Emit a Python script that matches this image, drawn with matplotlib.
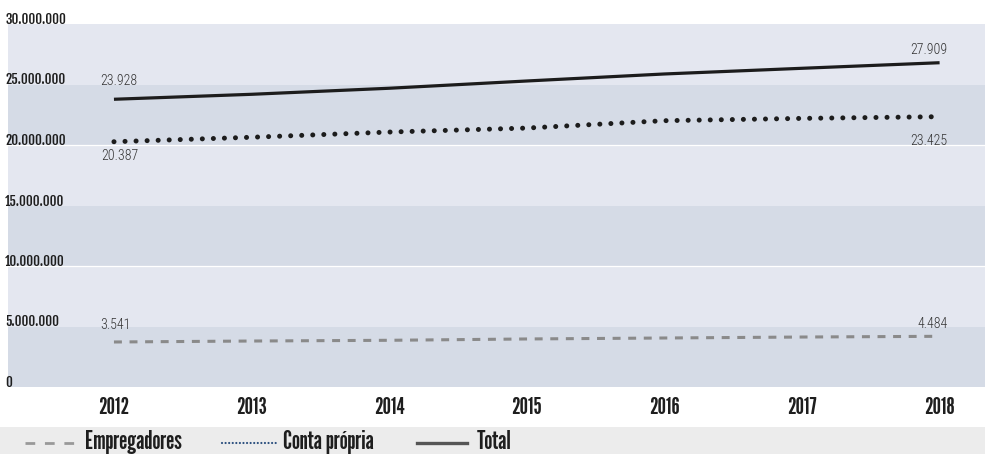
import matplotlib
matplotlib.use("Agg")
import matplotlib.pyplot as plt
from matplotlib.transforms import blended_transform_factory
from matplotlib.lines import Line2D
from matplotlib.patches import Rectangle

# ---- data (millions) ----
years = [2012, 2013, 2014, 2015, 2016, 2017, 2018]
total = [23.78, 24.19, 24.69, 25.29, 25.87, 26.34, 26.80]
conta_propria = [20.27, 20.64, 21.07, 21.40, 22.01, 22.20, 22.34]
empregadores = [3.72, 3.80, 3.86, 3.97, 4.05, 4.13, 4.19]

total_labels = ["23.928", "27.909"]
conta_labels = ["20.387", "23.425"]
empreg_labels = ["3.541", "4.484"]

y_ticks = [0, 5, 10, 15, 20, 25, 30]
y_tick_labels = ["0", "5.000.000", "10.000.000", "15.000.000", "20.000.000",
                 "25.000.000", "30.000.000"]
legend_names = ["Empregadores", "Conta própria", "Total"]

BOLD = ["League Gothic", "DejaVu Sans"]
YFONT = ["Fjalla One", "League Gothic", "DejaVu Sans"]
LIGHT = ["Roboto Condensed", "DejaVu Sans"]

W, H = 985, 454
fig = plt.figure(figsize=(W / 100, H / 100), dpi=100)
fig.patch.set_facecolor("white")
ax = fig.add_axes([8 / W, (H - 387) / H, 977 / W, 363 / H])
ax.set_facecolor("none")
for s in ax.spines.values():
    s.set_visible(False)

ax.set_ylim(0, 30)
ax.set_xlim(2011.23, 2018.33)

light = "#e4e7f0"
dark = "#d5dbe6"
for i in range(len(y_ticks) - 1):
    c = dark if i % 2 == 0 else light
    ax.axhspan(y_ticks[i], y_ticks[i + 1], color=c, lw=0, zorder=0)
for v in [10, 20]:
    ax.axhline(v, color="white", lw=0.9, zorder=0.5)

ax.set_yticks([])
ax.set_xticks(years)
ax.set_xticklabels([str(y) for y in years], fontfamily=BOLD,
                   fontsize=17, color="#1e1e1e")
ax.tick_params(axis="x", length=0, pad=7)

# y labels on the left, above each band boundary
tr = blended_transform_factory(fig.transFigure, ax.transData)
for v, lab in zip(y_ticks, y_tick_labels):
    ax.text(5 / W, v, lab, transform=tr, ha="left", va="baseline",
            fontfamily=YFONT, fontsize=9.5, color="#1e1e1e", clip_on=False)

# lines
ax.plot(years, total, color="#1c1c1c", lw=2.3, solid_capstyle="butt", zorder=3)
ax.plot(years, conta_propria, color="#1c1c1c", lw=3.6,
        linestyle=(0, (0.01, 2.2)), dash_capstyle="round", zorder=3)
ax.plot(years, empregadores, color="#8a8a8a", lw=2.2,
        linestyle=(0, (2.6, 2.5)), dash_capstyle="butt", zorder=3)

def lab(x, y, s, dx, dy, ha):
    ax.annotate(s, (x, y), xytext=(dx, dy), textcoords="offset points",
                ha=ha, va="baseline", fontfamily=LIGHT, fontweight="light",
                fontsize=10, color="#333333")

lab(years[0], total[0], total_labels[0], -10, 10, "left")
lab(years[-1], total[-1], total_labels[1], 5.8, 6.3, "right")
lab(years[0], conta_propria[0], conta_labels[0], -9.4, -13, "left")
lab(years[-1], conta_propria[-1], conta_labels[1], 5.8, -20.5, "right")
lab(years[0], empregadores[0], empreg_labels[0], -10, 9.4, "left")
lab(years[-1], empregadores[-1], empreg_labels[1], 5.8, 6, "right")

# legend strip
fig.patches.append(Rectangle((0, 0), 1, 27 / H, transform=fig.transFigure,
                             facecolor="#ececec", edgecolor="none", zorder=0))
ly = (H - 443) / H
fig.lines.append(Line2D([25 / W, 75 / W], [ly, ly], transform=fig.transFigure,
                        color="#999999", lw=2, linestyle=(0, (3.5, 3.5))))
fig.lines.append(Line2D([222 / W, 276 / W], [ly, ly], transform=fig.transFigure,
                        color="#2b4f7e", lw=1.6, linestyle=(0, (0.01, 1.6)),
                        dash_capstyle="round"))
fig.lines.append(Line2D([417 / W, 467 / W], [ly, ly], transform=fig.transFigure,
                        color="#555555", lw=2.4))
tby = (H - 449) / H
for xpx, name in zip([85, 283, 477], legend_names):
    fig.text(xpx / W, tby, name, ha="left", va="baseline", fontfamily=BOLD,
             fontsize=18.5, color="#1e1e1e")

fig.savefig("out.png", dpi=100)
